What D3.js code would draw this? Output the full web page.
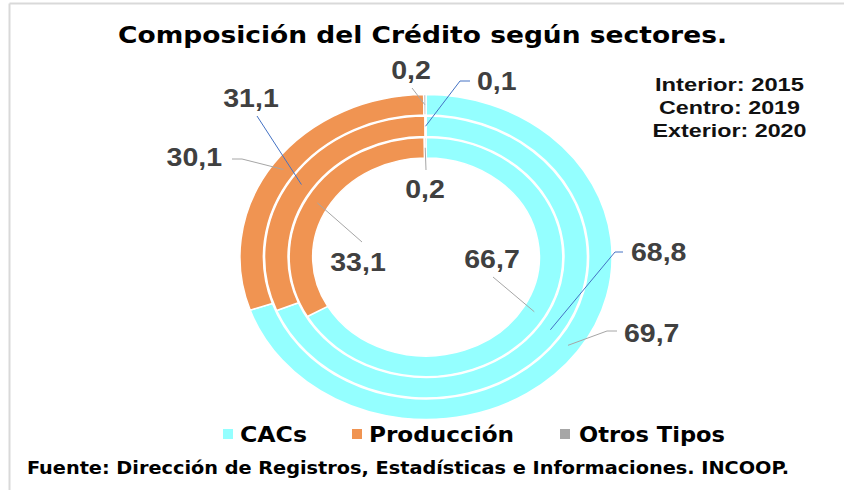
<!DOCTYPE html>
<html><head><meta charset="utf-8">
<script src="https://cdn.jsdelivr.net/npm/d3@7"></script>
<style>body{margin:0;background:#fff}svg{display:block}</style>
</head><body>
<svg id="c" width="844" height="490"></svg>
<script>
// ---- data ----
const categories = ["CACs", "Producción", "Otros Tipos"];
const ringYears = ["2015", "2019", "2020"];          // interior, centro, exterior
const values2015 = [66.7, 33.1, 0.2];
const values2019 = [68.8, 31.1, 0.1];
const values2020 = [69.7, 30.1, 0.2];
const ringNames = ["Interior", "Centro", "Exterior"];
const colors = ["#94FFFF", "#F09452", "#A6A6A6"];

// ---- layout ----
const svg = d3.select("#c");
const cx = 426, cy = 257, sx = 1.145;
const ringRadii = [[99, 119.5], [120.5, 141], [142, 162.5]];
const ringValues = [values2015, values2019, values2020];
const leaderColors = ["#A6A6A6", "#4472C4", "#A6A6A6"];

// frame
svg.append("line").attr("x1", 9.5).attr("x2", 844).attr("y1", 3.5).attr("y2", 3.5).attr("stroke", "#d9d9d9").attr("stroke-width", 2);
svg.append("line").attr("x1", 9.5).attr("x2", 9.5).attr("y1", 3.5).attr("y2", 490).attr("stroke", "#d9d9d9").attr("stroke-width", 2);

// title
svg.append("text").attr("x", 118).attr("y", 43)
  .attr("textLength", 609).attr("lengthAdjust", "spacingAndGlyphs")
  .style("font-family", "DejaVu Sans").style("font-weight", "bold").style("font-size", "23px").attr("fill", "#000")
  .text("Composición del Crédito según sectores.");

const pie = d3.pie().sort(null).value(d => d);
const color = d3.scaleOrdinal().domain(categories).range(colors);
const donut = svg.append("g").attr("transform", `translate(${cx},${cy}) scale(${sx},1)`);

// label layout: [ring][category] -> {elbow points, label pos, anchor}
const labelLayout = [
  [ {pts: [[493, 277]], lx: 492, ly: 268, a: "middle"},
    {pts: [[362, 242]], lx: 358, ly: 271, a: "middle"},
    {pts: [[426, 170]], lx: 425, ly: 198, a: "middle"} ],
  [ {pts: [[615, 252], [623, 252]], lx: 631, ly: 261, a: "start"},
    {pts: [[257, 116]], lx: 251, ly: 107, a: "middle"},
    {pts: [[460, 81], [470, 81]], lx: 477, ly: 90, a: "start"} ],
  [ {pts: [[607, 331], [617, 331]], lx: 624, ly: 342, a: "start"},
    {pts: [[242, 159], [232, 159]], lx: 222, ly: 166, a: "end"},
    {pts: [[412, 88]], lx: 411, ly: 79, a: "middle"} ]
];
const fmt = v => d3.format(".1f")(v).replace(".", ",");

ringValues.forEach((vals, ri) => {
  const arc = d3.arc().innerRadius(ringRadii[ri][0]).outerRadius(ringRadii[ri][1]);
  const arcs = pie(vals);
  donut.selectAll(null).data(arcs).enter().append("path")
    .attr("d", arc).attr("fill", (d, i) => color(categories[i]))
    .attr("stroke", "#fff").attr("stroke-width", 1.5).attr("vector-effect", "non-scaling-stroke");
  arcs.forEach((d, i) => {
    const c = arc.centroid(d);
    const p0 = [cx + c[0] * sx, cy + c[1]];
    const L = labelLayout[ri][i];
    const pts = [p0].concat(L.pts);
    svg.append("path").attr("d", d3.line()(pts)).attr("fill", "none")
      .attr("stroke", leaderColors[ri]).attr("stroke-width", 1);
    svg.append("text").attr("transform", `translate(${L.lx},${L.ly}) scale(1.14,1)`)
      .attr("text-anchor", L.a)
      .style("font-family", "Liberation Sans, Arial").style("font-weight", "bold").style("font-size", "25px")
      .attr("fill", "#404040").text(fmt(vals[i]));
  });
});

// year annotation
const annot = ringNames.map((n, i) => `${n}: ${ringYears[i]}`);
const annotW = [149, 141, 154];
annot.forEach((t, i) => {
  svg.append("text").attr("x", 729.5 - annotW[i] / 2).attr("y", 91 + i * 23)
    .attr("textLength", annotW[i]).attr("lengthAdjust", "spacingAndGlyphs")
    .style("font-family", "Liberation Sans, Arial").style("font-weight", "bold").style("font-size", "19px")
    .attr("fill", "#111").text(t);
});

// legend
const legX = [223, 352, 560], legTextX = [240, 369, 579], legW = [67, 145, 146];
categories.forEach((c, i) => {
  svg.append("rect").attr("x", legX[i]).attr("y", 429).attr("width", 10).attr("height", 10).attr("fill", color(c));
  svg.append("text").attr("x", legTextX[i]).attr("y", 442)
    .attr("textLength", legW[i]).attr("lengthAdjust", "spacingAndGlyphs")
    .style("font-family", "DejaVu Sans Condensed, DejaVu Sans").style("font-weight", "bold").style("font-size", "22px")
    .attr("fill", "#000").text(c);
});

// source
svg.append("text").attr("x", 27).attr("y", 474)
  .attr("textLength", 762).attr("lengthAdjust", "spacingAndGlyphs")
  .style("font-family", "DejaVu Sans Condensed, DejaVu Sans").style("font-weight", "bold").style("font-size", "17.5px")
  .attr("fill", "#000").text("Fuente: Dirección de Registros, Estadísticas e Informaciones. INCOOP.");
</script>
</body></html>
